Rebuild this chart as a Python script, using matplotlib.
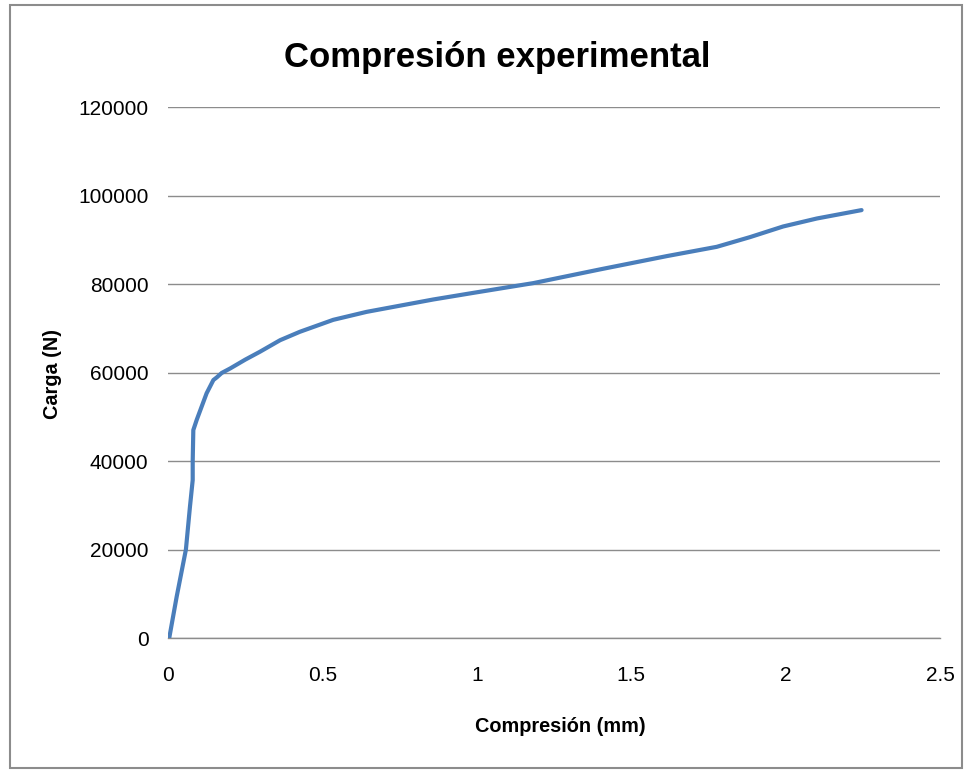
import matplotlib
matplotlib.use("Agg")
from matplotlib import pyplot as plt
from matplotlib.patches import Rectangle

# valores
compresion_mm = [0.0, 0.004, 0.028, 0.058, 0.071, 0.080, 0.080, 0.082, 0.093, 0.109, 0.125, 0.147,
                 0.158, 0.174, 0.201, 0.250, 0.298, 0.363, 0.427, 0.535, 0.643, 0.751, 0.859,
                 0.989, 1.183, 1.399, 1.615, 1.777, 1.885, 1.992, 2.101, 2.246]
carga_n = [0, 0, 9300, 20000, 29600, 35700, 40000, 47000, 49300, 52300, 55300, 58300,
           58900, 59900, 60900, 62900, 64700, 67300, 69200, 71900, 73700, 75100, 76500,
           78000, 80200, 83300, 86300, 88400, 90600, 93000, 94800, 96700]

x_ticks = [0, 0.5, 1, 1.5, 2, 2.5]
x_tick_labels = ["0", "0.5", "1", "1.5", "2", "2.5"]
y_ticks = [0, 20000, 40000, 60000, 80000, 100000, 120000]

plt.rcParams["font.family"] = ["Liberation Sans", "DejaVu Sans"]

fig = plt.figure(figsize=(9.67, 7.7), dpi=100)
ax = fig.add_axes([168 / 967, 1 - 638 / 770, (940 - 168) / 967, (638 - 107) / 770])

ax.plot(compresion_mm, carga_n, color="#4A7EBB", linewidth=3.0,
        solid_capstyle="round", solid_joinstyle="round", zorder=3)

ax.set_xlim(0, 2.5)
ax.set_ylim(0, 120000)
ax.set_xticks(x_ticks)
ax.set_xticklabels(x_tick_labels)
ax.set_yticks(y_ticks)
ax.set_yticklabels([str(v) for v in y_ticks])
ax.tick_params(axis="both", length=0, labelsize=15, colors="black")
ax.tick_params(axis="x", pad=20)
ax.tick_params(axis="y", pad=14)
ax.grid(axis="y", color="#8c8c8c", linewidth=1.0)
ax.set_axisbelow(True)
for side in ["top", "right", "left"]:
    ax.spines[side].set_visible(False)
ax.spines["bottom"].set_color("#8c8c8c")
ax.spines["bottom"].set_linewidth(1.0)

fig.text(497 / 967, 1 - 67 / 770, "Compresión experimental", ha="center", va="baseline",
         fontsize=25, fontweight="bold")
fig.text(560 / 967, 1 - 732 / 770, "Compresión (mm)", ha="center", va="baseline",
         fontsize=14.3, fontweight="bold")
fig.text(53 / 967, 1 - 374 / 770, "Carga (N)", ha="center", va="center", rotation=90,
         fontsize=14.3, fontweight="bold")

fig.patches.append(Rectangle((10 / 967, 2 / 770), 952 / 967, 763 / 770, transform=fig.transFigure,
                             fill=False, edgecolor="#8c8c8c", linewidth=1.5))

fig.savefig("out.png", dpi=100)
